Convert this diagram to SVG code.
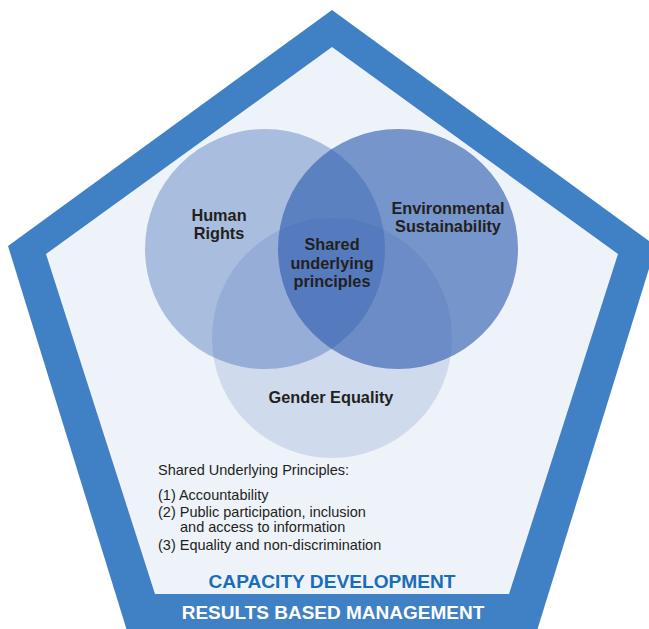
<svg xmlns="http://www.w3.org/2000/svg" width="649" height="629" viewBox="0 0 649 629">
<style>
.lbl{font-family:"Liberation Sans",Arial,Helvetica,sans-serif;font-weight:bold;font-size:16.3px;fill:#231f20;text-anchor:middle}
.sm{font-family:"Liberation Sans",Arial,Helvetica,sans-serif;font-size:14.5px;fill:#231f20}
.band{font-family:"Liberation Sans",Arial,Helvetica,sans-serif;font-weight:bold;text-anchor:middle}
.c{fill:#2f5eb0}
</style>
<g id="frame">
<polygon points="332,10 656,246 536,634 128,634 8,246" fill="#4080c4"/>
<polygon points="332,47 618,254 509,594 155,594 46,254" fill="#eef3fa"/>
</g>
<g id="human-rights">
<circle class="c" cx="265" cy="249" r="120" fill-opacity="0.36"/>
<text class="lbl" x="219" y="221">Human</text>
<text class="lbl" x="219" y="239">Rights</text>
</g>
<g id="environmental-sustainability">
<circle class="c" cx="398" cy="249" r="120" fill-opacity="0.63"/>
<text class="lbl" x="448" y="214">Environmental</text>
<text class="lbl" x="448" y="232">Sustainability</text>
</g>
<g id="gender-equality">
<circle class="c" cx="332" cy="338" r="120" fill-opacity="0.16"/>
<text class="lbl" x="331" y="403">Gender Equality</text>
</g>
<g id="shared">
<text class="lbl" x="332" y="250">Shared</text>
<text class="lbl" x="332" y="268.5">underlying</text>
<text class="lbl" x="332" y="287">principles</text>
</g>
<g id="principles-list">
<text class="sm" x="158" y="475">Shared Underlying Principles:</text>
<text class="sm" x="158" y="500">(1) Accountability</text>
<text class="sm" x="158" y="516.5">(2) Public participation, inclusion</text>
<text class="sm" x="180" y="532">and access to information</text>
<text class="sm" x="158" y="549.5">(3) Equality and non-discrimination</text>
</g>
<g id="capacity-development">
<text class="band" x="332" y="588" font-size="18px" fill="#1b6db8" textLength="247" lengthAdjust="spacingAndGlyphs">CAPACITY DEVELOPMENT</text>
</g>
<g id="results-based-management">
<text class="band" x="333" y="619" font-size="19px" fill="#ffffff">RESULTS BASED MANAGEMENT</text>
</g>
<g id="connectors"/>
</svg>
